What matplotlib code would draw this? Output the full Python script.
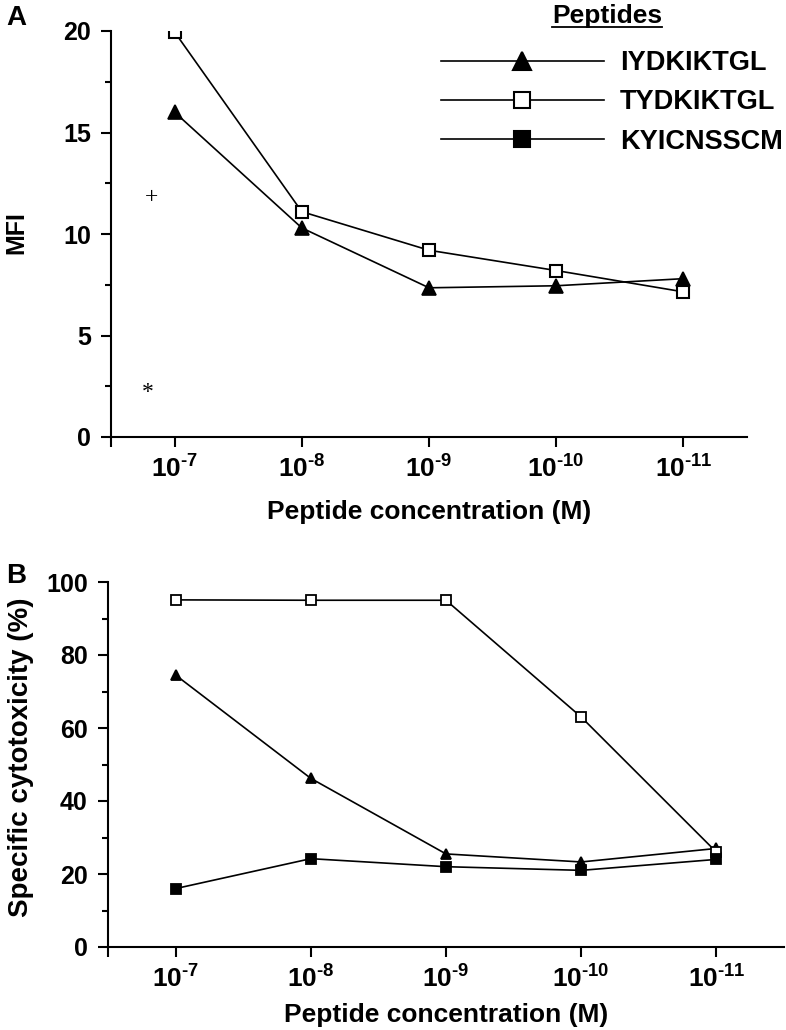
import numpy as np
import matplotlib
matplotlib.use("Agg")
import matplotlib.pyplot as plt
from matplotlib.lines import Line2D
from matplotlib.ticker import FixedLocator, MultipleLocator

plt.rcParams['font.family'] = ['Liberation Sans', 'DejaVu Sans']
plt.rcParams['font.weight'] = 'bold'
plt.rcParams['mathtext.fontset'] = 'custom'
plt.rcParams['mathtext.rm'] = 'Liberation Sans:bold'
plt.rcParams['mathtext.it'] = 'Liberation Sans:bold'
plt.rcParams['mathtext.bf'] = 'Liberation Sans:bold'

# data
conc_labels = ['$10^{\u20107}$', '$10^{\u20108}$', '$10^{\u20109}$',
               '$10^{\u201010}$', '$10^{\u201011}$']
peptides = ['IYDKIKTGL', 'TYDKIKTGL', 'KYICNSSCM']

mfi_iydkiktgl = [16.0, 10.3, 7.35, 7.45, 7.8]
mfi_tydkiktgl = [19.95, 11.1, 9.2, 8.2, 7.15]
ctrl_x = [-0.18, -0.21]
ctrl_y = [11.8, 2.2]
ctrl_sym = ['+', '*']

cyt_iydkiktgl = [74.5, 46.2, 25.5, 23.3, 27.0]
cyt_tydkiktgl = [95.1, 95.0, 95.0, 63.0, 26.0]
cyt_kyicnsscm = [16.0, 24.2, 22.0, 21.0, 24.0]

styles = {
    'IYDKIKTGL': dict(marker='^', mfc='black'),
    'TYDKIKTGL': dict(marker='s', mfc='white'),
    'KYICNSSCM': dict(marker='s', mfc='black'),
}

fig = plt.figure(figsize=(7.86, 10.3), dpi=100)
ax_a = fig.add_axes([111/786, 1 - 437/1030, (747 - 111)/786, (437 - 31)/1030])
ax_b = fig.add_axes([108/786, 1 - 947/1030, (784 - 108)/786, (947 - 582)/1030])

x = np.arange(len(conc_labels))

# panel A
ax_a.plot(x, mfi_iydkiktgl, color='black', lw=1.2, ms=10, mec='black', mew=1.2,
          **styles['IYDKIKTGL'])
ax_a.plot(x, mfi_tydkiktgl, color='black', lw=1.2, ms=9, mec='black', mew=1.5,
          **styles['TYDKIKTGL'])
for cx, cy, s in zip(ctrl_x, ctrl_y, ctrl_sym):
    ax_a.text(cx, cy, s, ha='center', va='center', fontsize=17,
              family='Liberation Serif', fontweight='normal')
ax_a.set_ylim(0, 20)
ax_a.yaxis.set_major_locator(MultipleLocator(5))
ax_a.yaxis.set_minor_locator(MultipleLocator(2.5))
ax_a.set_ylabel('MFI', fontsize=18, fontweight='bold')
ax_a.yaxis.set_label_coords((28 - 111)/636, (437 - 233)/406)

# panel B
for name, vals in zip(peptides, [cyt_iydkiktgl, cyt_tydkiktgl, cyt_kyicnsscm]):
    ax_b.plot(x, vals, color='black', lw=1.2, ms=7, mec='black', mew=1.3,
              label=name, **styles[name])
ax_b.set_ylim(0, 100)
ax_b.yaxis.set_major_locator(MultipleLocator(20))
ax_b.yaxis.set_minor_locator(MultipleLocator(10))
ax_b.set_ylabel('Specific cytotoxicity (%)', fontsize=20, fontweight='bold')
ax_b.yaxis.set_label_coords((34 - 108)/676, (947 - 757)/365)

for ax, lp in ((ax_a, 12), (ax_b, 7)):
    ax.set_xlim(-0.5, 4.5)
    ax.set_xticks(x)
    ax.set_xticklabels(conc_labels)
    ax.xaxis.set_minor_locator(FixedLocator([-0.5]))
    ax.spines['top'].set_visible(False)
    ax.spines['right'].set_visible(False)
    ax.spines['left'].set_linewidth(1.5)
    ax.spines['bottom'].set_linewidth(1.5)
    ax.tick_params(axis='both', which='major', direction='out', length=7.5, width=1.5,
                   labelsize=18, pad=7)
    ax.tick_params(axis='both', which='minor', direction='out', length=4, width=1.5)
    ax.tick_params(axis='x', which='minor', length=7)
    ax.tick_params(axis='x', which='major', labelsize=19, pad=6)
    ax.set_xlabel('Peptide concentration (M)', fontsize=19, fontweight='bold', labelpad=lp)
    for t in ax.get_yticklabels():
        t.set_fontweight('bold')

fig.text(16/786, 1 - 18/1030, 'A', fontsize=20, fontweight='bold', ha='center', va='center')
fig.text(16/786, 1 - 576/1030, 'B', fontsize=20, fontweight='bold', ha='center', va='center')

# legend
handles = [Line2D([], [], color='black', lw=1.2, ms=13 if styles[p]['marker'] == '^' else 12,
                  mec='black', mew=1.5, **styles[p]) for p in peptides]
leg = fig.legend(handles, peptides, loc='upper left',
                 bbox_to_anchor=(441/786, 1 - 50/1030), frameon=False,
                 handlelength=6.0, handletextpad=0.6, labelspacing=0.49,
                 prop=dict(size=19.5, weight='bold'), numpoints=1, borderpad=0,
                 borderaxespad=0)
title = fig.text(607/786, 1 - 16/1030, 'Peptides', fontsize=19, fontweight='bold',
                 ha='center', va='center')
fig.canvas.draw()
bb = title.get_window_extent().transformed(fig.transFigure.inverted())
fig.add_artist(Line2D([bb.x0, bb.x1], [bb.y0 + 0.001, bb.y0 + 0.001], color='black',
                      lw=1.3, transform=fig.transFigure))

fig.savefig('out.png', dpi=100)
